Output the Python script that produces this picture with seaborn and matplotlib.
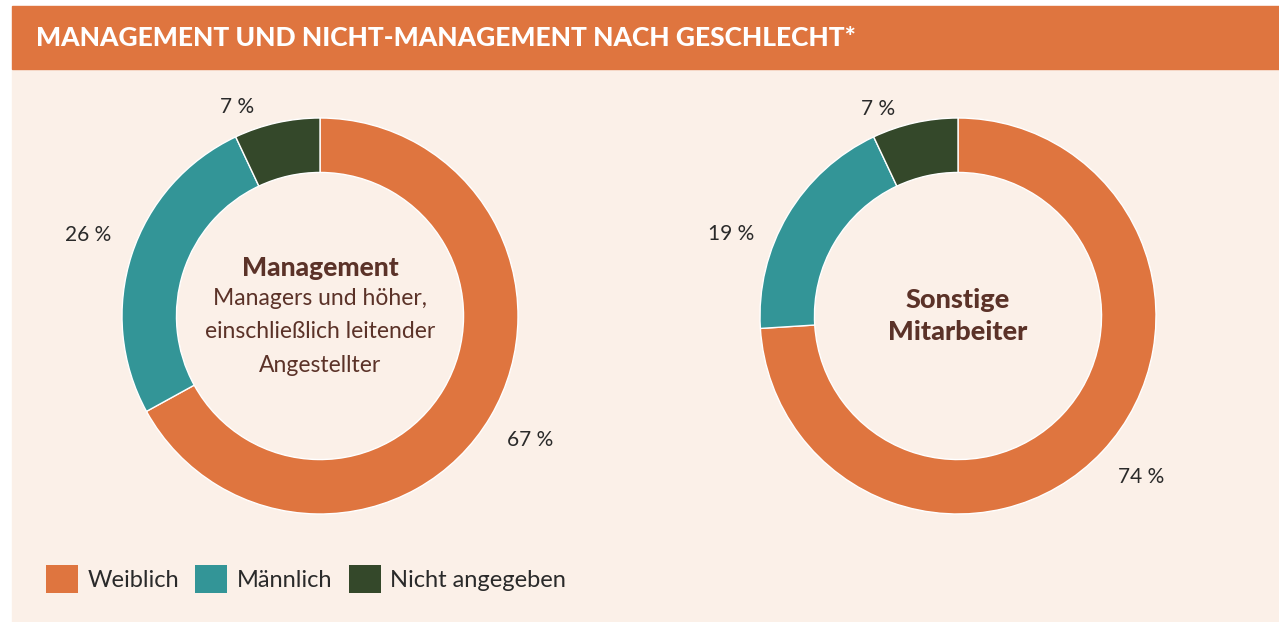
import matplotlib
matplotlib.use("Agg")
import matplotlib.pyplot as plt
from matplotlib.patches import Rectangle, Patch
import seaborn as sns

# data
categories = ["Weiblich", "Männlich", "Nicht angegeben"]
management = [67, 26, 7]
others = [74, 19, 7]
pct_labels_management = ["67 %", "26 %", "7 %"]
pct_labels_others = ["74 %", "19 %", "7 %"]
title = "MANAGEMENT UND NICHT-MANAGEMENT NACH GESCHLECHT*"

# small manual nudges for the percent labels (pixels, x right / y up)
nudge_management = [(0, 0), (0, 6), (-30, -29)]
nudge_others = [(6, 6), (-17, -42), (-27, -31)]

colors = ["#DF753F", "#339597", "#34482A"]
bg = "#FBF0E8"
brown = "#5B3228"

sns.set_style("white")
plt.rcParams["font.family"] = ["Lato", "DejaVu Sans"]

W, H = 1279, 622
R = 198  # outer radius in pixels
fig = plt.figure(figsize=(W / 100, H / 100), dpi=100, facecolor="white")

# background panels
fig.patches.append(Rectangle((12 / W, 0), 1 - 12 / W, (H - 69) / H,
                             transform=fig.transFigure, color=bg, zorder=-2))
fig.patches.append(Rectangle((12 / W, (H - 69) / H), 1 - 12 / W, 63 / H,
                             transform=fig.transFigure, color="#DF753F", zorder=-2))
fig.text(36 / W, (H - 38) / H, title, color="white", fontsize=19,
         fontweight="black", va="center", ha="left")


def donut(cx, cy, values, labels, nudges):
    half = 250
    ax = fig.add_axes([(cx - half) / W, (H - cy - half) / H, 2 * half / W, 2 * half / H])
    ax.set_facecolor("none")
    wedges, texts = ax.pie(values, labels=labels, colors=colors, startangle=90,
                           counterclock=False, labeldistance=1.23,
                           wedgeprops=dict(width=0.275, edgecolor="white", linewidth=1),
                           textprops=dict(fontsize=15, color="#2a2a2a"))
    for t, (dx, dy) in zip(texts, nudges):
        x, y = t.get_position()
        t.set_position((x + dx / R, y + dy / R))
        t.set_ha("center")
    lim = half / R
    ax.set_xlim(-lim, lim)
    ax.set_ylim(-lim, lim)
    ax.set_aspect("equal")
    ax.axis("off")
    return ax, wedges


ax1, wedges = donut(320, 316, management, pct_labels_management, nudge_management)
ax2, _ = donut(958, 316, others, pct_labels_others, nudge_others)

ax1.text(0, 48 / R, "Management", ha="center", va="center", fontsize=19,
         fontweight="black", color=brown)
ax1.text(0, -16 / R, "Managers und höher,\neinschließlich leitender\nAngestellter",
         ha="center", va="center", fontsize=16.5, color=brown, linespacing=1.72)
ax2.text(0, 0.0, "Sonstige\nMitarbeiter", ha="center", va="center", fontsize=19.5,
         fontweight="black", color=brown, linespacing=1.35)

handles = [Patch(facecolor=c, edgecolor="none") for c in colors]
fig.legend(handles, categories, loc="center left", bbox_to_anchor=(46 / W, (H - 579) / H),
           borderaxespad=0, borderpad=0,
           ncol=3, frameon=False, fontsize=17, handlelength=1.35, handleheight=1.5,
           handletextpad=0.4, columnspacing=0.7, labelcolor="#2a2a2a")

fig.savefig("out.png", dpi=100, facecolor="white")
